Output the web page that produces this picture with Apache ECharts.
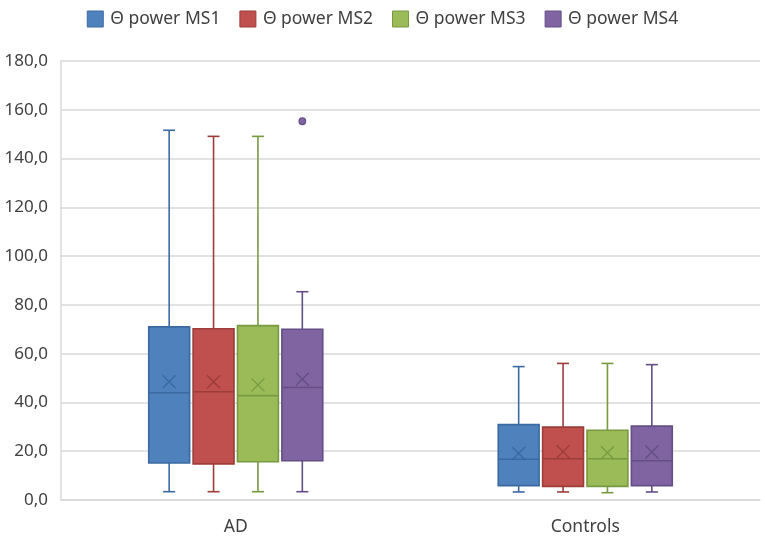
<!DOCTYPE html>
<html>
<head>
<meta charset="utf-8">
<script src="https://cdn.jsdelivr.net/npm/echarts@6/dist/echarts.min.js"></script>
<style>
  html, body { margin: 0; padding: 0; background: #fff; }
  #chart { width: 765px; height: 539px; }
</style>
</head>
<body>
<div id="chart"></div>
<script>
// categories on the x axis
var categories = ['AD', 'Controls'];
var seriesNames = ['Θ power MS1', 'Θ power MS2', 'Θ power MS3', 'Θ power MS4'];

// [min, Q1, median, Q3, max] for AD and Controls
var ms1Box = [[3.4, 15.2, 44.0, 71.0, 151.6], [3.3, 5.9, 16.7, 30.9, 54.7]];
var ms2Box = [[3.4, 14.8, 44.4, 70.2, 149.1], [3.3, 5.6, 16.9, 29.9, 56.0]];
var ms3Box = [[3.4, 15.7, 42.8, 71.5, 149.1], [3.0, 5.6, 16.9, 28.6, 56.0]];
var ms4Box = [[3.4, 16.1, 46.1, 70.0, 85.4], [3.3, 5.9, 16.1, 30.3, 55.5]];

// means (× markers)
var ms1Mean = [48.5, 19.1];
var ms2Mean = [48.5, 19.8];
var ms3Mean = [47.2, 19.4];
var ms4Mean = [49.5, 19.7];

// outliers: [category index, value]
var ms4Outliers = [[0, 155.3]];

var yTicks = [0, 20, 40, 60, 80, 100, 120, 140, 160, 180];

var fills = ['#4F81BD', '#C0504D', '#9BBB59', '#8064A2'];
var edges = ['#3B6AA0', '#9C3D3A', '#789A40', '#634E86'];

var boxes = [ms1Box, ms2Box, ms3Box, ms4Box];
var means = [ms1Mean, ms2Mean, ms3Mean, ms4Mean];

function fmt(v) {
  return v.toFixed(1).replace('.', ',');
}

function boxRenderer(idx) {
  return function (params, api) {
    var cat = api.value(0);
    var band = api.size([1, 0])[0];
    var cx = api.coord([cat, 0])[0] + (idx - 1.5) * band * 0.127;
    var w = band * 0.117;
    var yMin = api.coord([cat, api.value(1)])[1];
    var yQ1 = api.coord([cat, api.value(2)])[1];
    var yMed = api.coord([cat, api.value(3)])[1];
    var yQ3 = api.coord([cat, api.value(4)])[1];
    var yMax = api.coord([cat, api.value(5)])[1];
    var yMean = api.coord([cat, api.value(6)])[1];
    var lineStyle = { stroke: edges[idx], lineWidth: 1.6 };
    var cap = 6;
    var m = 6.5;
    return {
      type: 'group',
      children: [
        { type: 'line', shape: { x1: cx, y1: yQ3, x2: cx, y2: yMax }, style: lineStyle },
        { type: 'line', shape: { x1: cx - cap, y1: yMax, x2: cx + cap, y2: yMax }, style: lineStyle },
        { type: 'line', shape: { x1: cx, y1: yQ1, x2: cx, y2: yMin }, style: lineStyle },
        { type: 'line', shape: { x1: cx - cap, y1: yMin, x2: cx + cap, y2: yMin }, style: lineStyle },
        {
          type: 'rect',
          shape: { x: cx - w / 2, y: yQ3, width: w, height: yQ1 - yQ3 },
          style: { fill: fills[idx], stroke: edges[idx], lineWidth: 1.6 }
        },
        { type: 'line', shape: { x1: cx - w / 2, y1: yMed, x2: cx + w / 2, y2: yMed }, style: lineStyle },
        { type: 'line', shape: { x1: cx - m, y1: yMean - m, x2: cx + m, y2: yMean + m }, style: { stroke: edges[idx], lineWidth: 1.3 } },
        { type: 'line', shape: { x1: cx - m, y1: yMean + m, x2: cx + m, y2: yMean - m }, style: { stroke: edges[idx], lineWidth: 1.3 } }
      ]
    };
  };
}

function outlierRenderer(idx) {
  return function (params, api) {
    var cat = api.value(0);
    var band = api.size([1, 0])[0];
    var cx = api.coord([cat, 0])[0] + (idx - 1.5) * band * 0.127;
    var cy = api.coord([cat, api.value(1)])[1];
    return {
      type: 'circle',
      shape: { cx: cx, cy: cy, r: 3.3 },
      style: { fill: fills[idx], stroke: edges[idx], lineWidth: 1.2 }
    };
  };
}

var series = [];
for (var i = 0; i < 4; i++) {
  var data = [];
  for (var c = 0; c < categories.length; c++) {
    data.push([c].concat(boxes[i][c]).concat([means[i][c]]));
  }
  series.push({
    name: seriesNames[i],
    type: 'custom',
    renderItem: boxRenderer(i),
    encode: { x: 0, y: [1, 2, 3, 4, 5, 6] },
    itemStyle: { color: fills[i] },
    data: data,
    z: 2
  });
}
series.push({
  name: seriesNames[3],
  type: 'custom',
  renderItem: outlierRenderer(3),
  encode: { x: 0, y: 1 },
  itemStyle: { color: fills[3] },
  data: ms4Outliers,
  z: 3
});

var chart = echarts.init(document.getElementById('chart'));
chart.setOption({
  animation: false,
  backgroundColor: '#ffffff',
  legend: {
    left: 'center',
    top: 5,
    icon: 'rect',
    itemWidth: 16,
    itemHeight: 16,
    itemGap: 19,
    textStyle: { fontFamily: 'Noto Sans', fontSize: 17.5, color: '#404040', padding: [0, 0, 0, 2] },
    data: seriesNames.map(function (n, k) {
      return { name: n, itemStyle: { color: fills[k], borderColor: edges[k], borderWidth: 1 } };
    })
  },
  grid: { left: 61, right: 5, top: 61, bottom: 39 },
  xAxis: {
    type: 'category',
    data: categories,
    axisLine: { lineStyle: { color: '#D9D9D9', width: 1.5 } },
    axisTick: { show: false },
    axisLabel: { fontFamily: 'Noto Sans', fontSize: 17.5, color: '#404040', margin: 18 }
  },
  yAxis: {
    type: 'value',
    min: yTicks[0],
    max: yTicks[yTicks.length - 1],
    interval: 20,
    axisLine: { show: true, lineStyle: { color: '#D9D9D9', width: 1.5 } },
    axisTick: { show: false },
    splitLine: { lineStyle: { color: '#D9D9D9', width: 1.5 } },
    axisLabel: {
      fontFamily: 'Noto Sans',
      fontSize: 17,
      color: '#404040',
      margin: 13,
      formatter: function (v) { return fmt(v); }
    }
  },
  series: series
});
</script>
</body>
</html>
